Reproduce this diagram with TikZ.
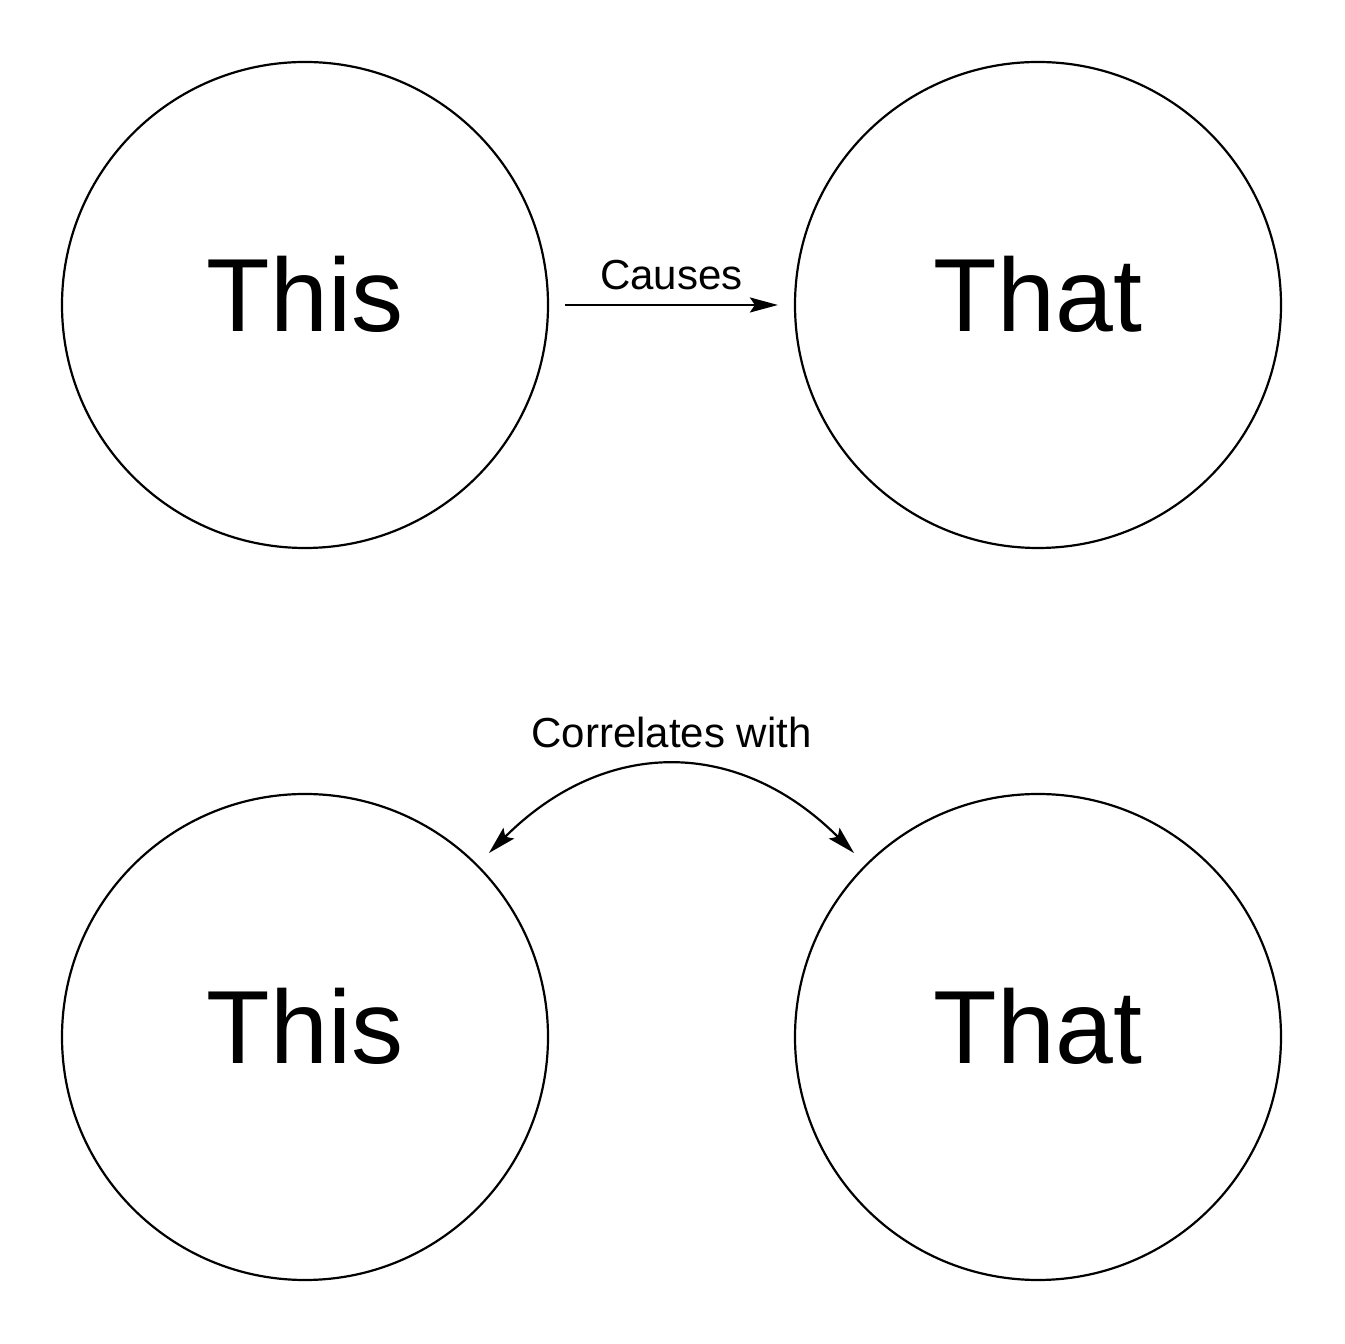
\documentclass[tikz,border=0pt]{standalone}
\usepackage{fontspec}
\setmainfont{Liberation Sans}
\usetikzlibrary{arrows.meta}
\tikzstyle{Blob}=[circle, minimum size=243pt, inner sep=0pt, draw=black, line width=1.1pt, font=\fontsize{52}{60}\selectfont, text depth=11.5pt]
\tikzstyle{Link}=[line width=1.1pt, shorten <=8pt, shorten >=8pt]
\tikzstyle{Lbl}=[font=\fontsize{21}{25}\selectfont]
\tikzset{Tip/.tip={Stealth[length=14pt, width=7.5pt, inset=2.5pt]}}

\begin{document}
\begin{tikzpicture}[x=0.5pt, y=0.5pt]
    \useasboundingbox (0,0) rectangle (1344,1344);
    \path
    (305,1039) node[Blob] (this1) {This}
    (1038,1039) node[Blob] (that1) {That}
    (305,307) node[Blob] (this2) {This}
    (1038,307) node[Blob] (that2) {That};

    \draw[Link, -Tip] (this1) -- node[Lbl, above=3.5pt] (causes) {Causes} (that1);
    \draw[Link, Tip-Tip] (this2.45) .. controls +(45:180) and +(135:180) .. node[Lbl, above=6.5pt] (corr) {Correlates with} (that2.135);
\end{tikzpicture}
\end{document}
